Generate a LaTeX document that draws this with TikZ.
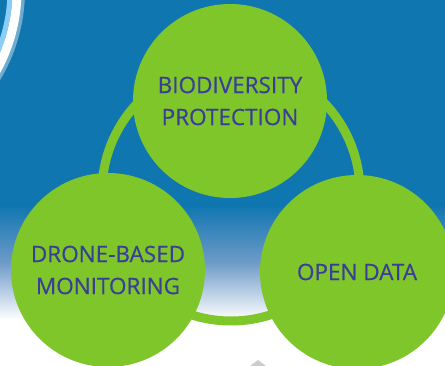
\documentclass[tikz,border=0pt]{standalone}
\usepackage{fontspec}
\setmainfont{Open Sans}
\newfontfamily\bubblefont[FakeBold=0.45]{Open Sans}
\definecolor{bgblue}{RGB}{15,118,176}
\definecolor{leaf}{RGB}{126,198,42}
\definecolor{ink}{RGB}{58,62,150}
\definecolor{paleblue}{RGB}{140,205,245}
\begin{document}
\begin{tikzpicture}[x=1pt,y=-1pt,
  bubble/.style={circle,fill=leaf,minimum size=194pt,inner sep=0pt,
    text=ink,align=center,font=\bubblefont\fontsize{22.5}{32}\selectfont}]
\useasboundingbox (0,0) rectangle (445,366);
% background
\fill[bgblue] (0,0) rectangle (445,206);
\shade[top color=bgblue,bottom color=white,middle color={rgb,255:red,110;green,155;blue,200}] (0,205) rectangle (445,320);
\fill[white] (0,319) rectangle (445,366);
% decorative arc top-left
\coordinate (arcc) at (-150,-10);
\begin{scope}
\clip (0,0) rectangle (445,366);
\draw[white,line width=16pt,opacity=0.4] (arcc) circle[radius=167];
\draw[white,line width=9pt] (arcc) circle[radius=167];
\draw[paleblue,line width=5pt] (arcc) circle[radius=160];
\end{scope}
% ring
\coordinate (ringc) at (231,192);
\draw[leaf,line width=9pt] (ringc) circle[radius=129];
% small gray mark
\fill[gray!40] (250,366) -- (258,360) -- (266,366) -- cycle;
% circles
\node[bubble] (bio) at (230,101) {BIODIVERSITY\\PROTECTION};
\node[bubble] (drone) at (108,270) {DRONE-BASED\\MONITORING};
\node[bubble] (open) at (357,272) {OPEN DATA};
\end{tikzpicture}
\end{document}
